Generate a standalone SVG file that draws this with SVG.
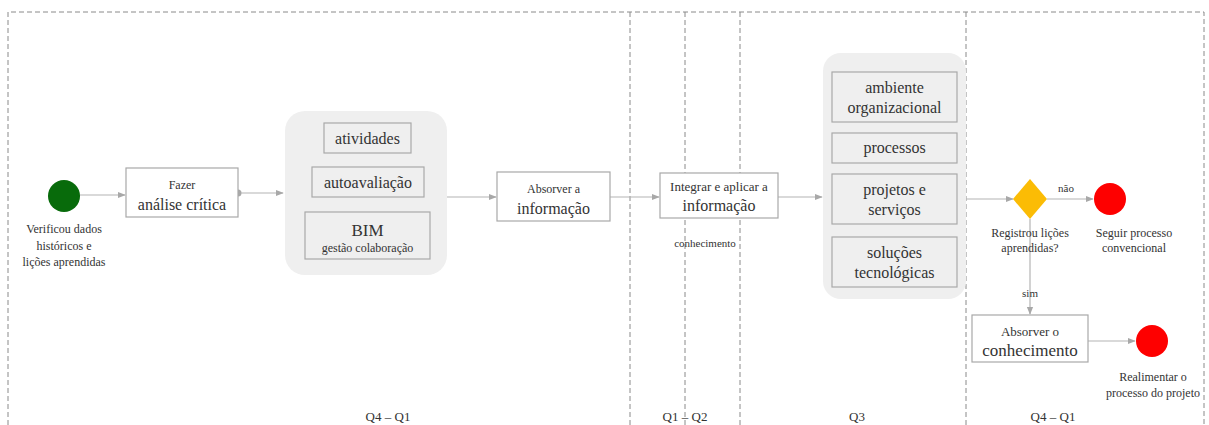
<svg xmlns="http://www.w3.org/2000/svg" width="1209" height="425" viewBox="0 0 1209 425">
  <style>
    text { font-family: "Liberation Serif", "Times New Roman", serif; fill: #333; text-anchor: middle; }
    .lane { fill: none; stroke: #8a8a8a; stroke-width: 1; stroke-dasharray: 5 3; }
    .box { fill: #fff; stroke: #a8a8a8; stroke-width: 1.2; }
    .sub { fill: #efefef; stroke: #a8a8a8; stroke-width: 1.2; }
    .panel { fill: #efefef; stroke: none; }
    .edge { fill: none; stroke: #b4b4b4; stroke-width: 1.2; marker-end: url(#arrow); }
    .s11 { font-size: 11px; }
    .s12 { font-size: 12px; }
    .s13 { font-size: 13px; }
    .s16 { font-size: 16px; }
    .s17 { font-size: 17px; }
  </style>
  <defs>
    <marker id="arrow" viewBox="0 0 10 10" refX="9" refY="5" markerWidth="8" markerHeight="8" markerUnits="userSpaceOnUse" orient="auto">
      <path d="M0,1 L10,5 L0,9 z" fill="#a8a8a8"/>
    </marker>
  </defs>

  <rect width="1209" height="425" fill="#fff"/>

  <!-- swimlane frame -->
  <g id="lanes">
    <path class="lane" d="M8,425 V12 H1204 V425"/>
    <path class="lane" d="M630,12 V425"/>
    <path class="lane" d="M685,12 V425"/>
    <path class="lane" d="M740,12 V425"/>
    <path class="lane" d="M966,12 V425"/>
    <text class="s13" x="388" y="421">Q4 – Q1</text>
    <text class="s13" x="685" y="421">Q1 – Q2</text>
    <text class="s13" x="857" y="421">Q3</text>
    <text class="s13" x="1053" y="421">Q4 – Q1</text>
  </g>

  <!-- connectors -->
  <g id="connectors">
    <path class="edge" d="M80,195 H125"/>
    <circle cx="238" cy="193" r="3.5" fill="#a8a8a8"/>
    <path class="edge" d="M241,193 H283"/>
    <path class="edge" d="M447,197 H496"/>
    <path class="edge" d="M610,197 H659"/>
    <path class="edge" d="M778,197 H822"/>
    <path class="edge" d="M966,199 H1013"/>
    <path class="edge" d="M1047,199 H1093"/>
    <text class="s11" x="1066" y="192">não</text>
    <path class="edge" d="M1030,219 V314"/>
    <text class="s11" x="1030" y="297">sim</text>
    <path class="edge" d="M1088,341 H1135"/>
  </g>

  <g id="start">
    <circle cx="64" cy="196" r="16" fill="#086b0b"/>
    <text class="s12" x="64" y="233">Verificou dados</text>
    <text class="s12" x="64" y="250">históricos e</text>
    <text class="s12" x="64" y="266">lições aprendidas</text>
  </g>

  <g id="analise">
    <rect class="box" x="126" y="168" width="112" height="49"/>
    <text class="s12" x="182" y="189">Fazer</text>
    <text class="s16" x="182" y="210">análise crítica</text>
  </g>

  <g id="fontes">
    <rect class="panel" x="285" y="111" width="162" height="164" rx="20"/>
    <rect class="sub" x="324" y="123" width="87" height="30"/>
    <text class="s16" x="367.5" y="144">atividades</text>
    <rect class="sub" x="312" y="167" width="112" height="30"/>
    <text class="s16" x="368" y="188">autoavaliação</text>
    <rect class="sub" x="305" y="212" width="125" height="47"/>
    <text class="s17" x="367.5" y="236">BIM</text>
    <text class="s12" x="367.5" y="252">gestão colaboração</text>
  </g>

  <g id="absorver-info">
    <rect class="box" x="497" y="172" width="113" height="49"/>
    <text class="s12" x="553.5" y="193">Absorver a</text>
    <text class="s16" x="553.5" y="214">informação</text>
  </g>

  <g id="integrar">
    <rect class="box" x="660" y="173" width="118" height="45"/>
    <text class="s13" x="719" y="191">Integrar e aplicar a</text>
    <text class="s16" x="719" y="211">informação</text>
    <text class="s11" x="705" y="247">conhecimento</text>
  </g>

  <g id="dominios">
    <rect class="panel" x="823" y="53" width="143" height="246" rx="18"/>
    <rect class="sub" x="832" y="72" width="125" height="50"/>
    <text class="s16" x="894.5" y="93">ambiente</text>
    <text class="s16" x="894.5" y="113">organizacional</text>
    <rect class="sub" x="832" y="133" width="125" height="30"/>
    <text class="s16" x="894.5" y="153">processos</text>
    <rect class="sub" x="832" y="174" width="125" height="50"/>
    <text class="s16" x="894.5" y="195">projetos e</text>
    <text class="s16" x="894.5" y="215">serviços</text>
    <rect class="sub" x="832" y="237" width="125" height="50"/>
    <text class="s16" x="894.5" y="258">soluções</text>
    <text class="s16" x="894.5" y="278">tecnológicas</text>
  </g>

  <g id="decisao">
    <path d="M1030,179 L1047,199 L1030,219 L1013,199 z" fill="#fbbc05"/>
    <text class="s12" x="1030" y="237">Registrou lições</text>
    <text class="s12" x="1030" y="252">aprendidas?</text>
  </g>

  <g id="fim-convencional">
    <circle cx="1110" cy="199" r="16" fill="#fe0000"/>
    <text class="s12" x="1134" y="237">Seguir processo</text>
    <text class="s12" x="1134" y="252">convencional</text>
  </g>

  <g id="absorver-conhecimento">
    <rect class="box" x="972" y="315" width="116" height="47"/>
    <text class="s13" x="1030" y="336">Absorver o</text>
    <text class="s17" x="1030" y="356">conhecimento</text>
  </g>

  <g id="fim-realimentar">
    <circle cx="1152" cy="341" r="16" fill="#fe0000"/>
    <text class="s12" x="1153" y="381">Realimentar o</text>
    <text class="s12" x="1153" y="397">processo do projeto</text>
  </g>
</svg>
